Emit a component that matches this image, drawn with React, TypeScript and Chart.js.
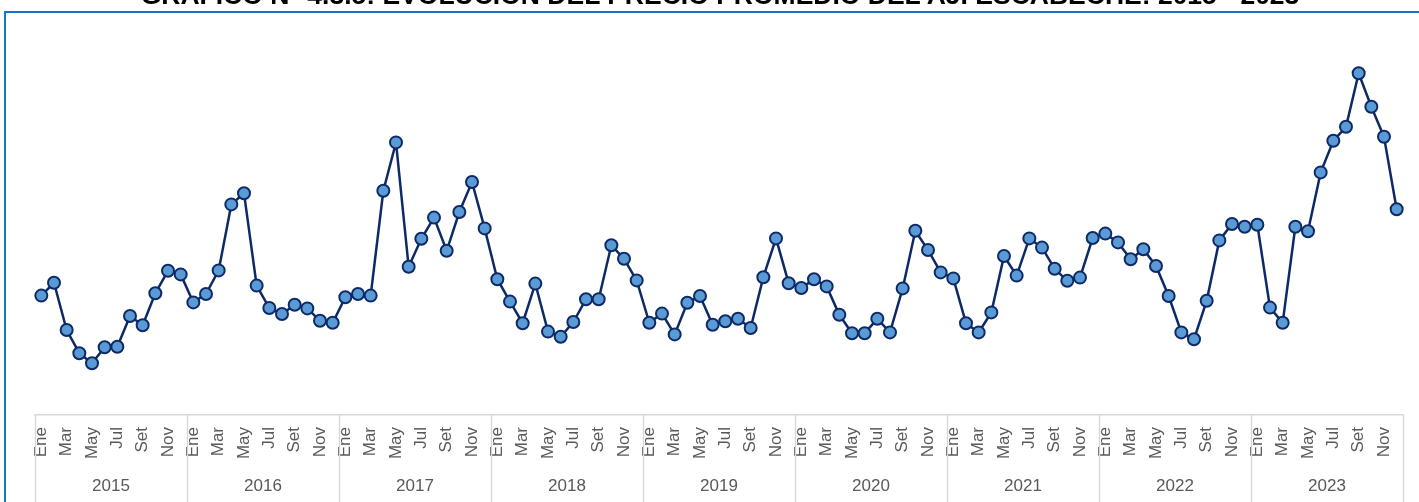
import React, { useEffect, useRef } from "react";
import { Chart, registerables } from "chart.js";

Chart.register(...registerables);

const TITLE = "GRÁFICO N° 4.3.5: EVOLUCIÓN DEL PRECIO PROMEDIO DEL AJÍ ESCABECHE: 2015 - 2023";

const years = ["2015", "2016", "2017", "2018", "2019", "2020", "2021", "2022", "2023"];
const monthNames = ["Ene", "Feb", "Mar", "Abr", "May", "Jun", "Jul", "Ago", "Set", "Oct", "Nov", "Dic"];
const shownMonths = ["Ene", "Mar", "May", "Jul", "Set", "Nov"];

const prices2015 = [3.11, 3.43, 2.25, 1.67, 1.42, 1.82, 1.83, 2.6, 2.37, 3.17, 3.73, 3.64];
const prices2016 = [2.94, 3.15, 3.74, 5.39, 5.67, 3.36, 2.8, 2.65, 2.88, 2.79, 2.48, 2.43];
const prices2017 = [3.07, 3.15, 3.11, 5.73, 6.94, 3.83, 4.53, 5.06, 4.23, 5.2, 5.95, 4.79];
const prices2018 = [3.52, 2.96, 2.42, 3.41, 2.21, 2.08, 2.45, 3.02, 3.02, 4.37, 4.03, 3.49];
const prices2019 = [2.43, 2.66, 2.14, 2.93, 3.1, 2.38, 2.47, 2.53, 2.3, 3.57, 4.54, 3.42];
const prices2020 = [3.3, 3.52, 3.34, 2.63, 2.17, 2.17, 2.53, 2.19, 3.29, 4.73, 4.25, 3.69];
const prices2021 = [3.54, 2.42, 2.19, 2.69, 4.1, 3.61, 4.54, 4.31, 3.78, 3.48, 3.56, 4.55];
const prices2022 = [4.66, 4.44, 4.02, 4.27, 3.85, 3.1, 2.19, 2.02, 2.98, 4.49, 4.9, 4.83];
const prices2023 = [4.88, 2.81, 2.43, 4.83, 4.72, 6.19, 6.98, 7.33, 8.67, 7.83, 7.08, 5.27];

const AXIS_COLOR = "#d9d9d9";
const TEXT_COLOR = "#595959";
const FONT_FAMILY = "Arial, 'Liberation Sans', sans-serif";

const yearAxisPlugin = {
  id: "yearAxis",
  afterDraw(chart: any) {
    const x = chart.scales.x;
    const ctx = chart.ctx;
    const top = chart.chartArea.bottom;
    const bottom = chart.height;
    ctx.save();
    ctx.strokeStyle = AXIS_COLOR;
    ctx.lineWidth = 1.5;
    for (let i = 0; i <= years.length; i++) {
      const px = Math.round(x.getPixelForValue(i * 12 - 0.5)) + 0.5;
      ctx.beginPath();
      ctx.moveTo(px, top);
      ctx.lineTo(px, bottom);
      ctx.stroke();
    }
    ctx.fillStyle = TEXT_COLOR;
    ctx.font = "17px " + FONT_FAMILY;
    ctx.textAlign = "center";
    ctx.textBaseline = "middle";
    years.forEach((yr, i) => {
      ctx.fillText(yr, x.getPixelForValue(i * 12 + 5.5), 486);
    });
    ctx.restore();
  },
};

export default function App() {
  const canvasRef = useRef<HTMLCanvasElement | null>(null);

  useEffect(() => {
    const labels: string[] = [];
    years.forEach((y) => monthNames.forEach((m) => labels.push(m + "-" + y)));
    const values = [
      ...prices2015,
      ...prices2016,
      ...prices2017,
      ...prices2018,
      ...prices2019,
      ...prices2020,
      ...prices2021,
      ...prices2022,
      ...prices2023,
    ];
    const chart = new Chart(canvasRef.current as HTMLCanvasElement, {
      type: "line",
      data: {
        labels,
        datasets: [
          {
            data: values,
            borderColor: "#0d2a66",
            borderWidth: 2.5,
            tension: 0,
            pointRadius: 6,
            pointBorderWidth: 2,
            pointBackgroundColor: "#5b9bd5",
            pointBorderColor: "#0d2a66",
            clip: false as any,
          },
        ],
      },
      options: {
        responsive: false,
        animation: false,
        layout: { padding: { left: 35, right: 16, top: 15, bottom: 0 } },
        plugins: {
          legend: { display: false },
          tooltip: { enabled: false },
          title: { display: false },
        },
        scales: {
          x: {
            type: "category",
            offset: true,
            afterFit: (scale: any) => {
              scale.height = 87;
              scale.paddingRight = 0;
              scale.paddingLeft = 0;
            },
            grid: { display: false, drawTicks: false },
            border: { display: true, color: AXIS_COLOR, width: 1.5 },
            ticks: {
              autoSkip: false,
              minRotation: 90,
              maxRotation: 90,
              padding: 12,
              color: TEXT_COLOR,
              font: { family: FONT_FAMILY, size: 17 },
              callback: (_v: any, i: number) => {
                const m = monthNames[i % 12];
                return shownMonths.includes(m) ? m : "";
              },
            },
          },
          y: {
            display: false,
            min: 0.125,
            max: 10.125,
          },
        },
      },
      plugins: [yearAxisPlugin],
    });
    return () => chart.destroy();
  }, []);

  return (
    <div
      style={{
        position: "fixed",
        left: 0,
        top: 0,
        width: 1419,
        height: 502,
        overflow: "hidden",
        background: "#ffffff",
      }}
    >
      <div
        style={{
          position: "absolute",
          left: 4,
          top: 11,
          width: 2000,
          height: 1000,
          borderLeft: "2px solid #1a74c4",
          borderTop: "2px solid #1a74c4",
        }}
      />
      <canvas
        ref={canvasRef}
        width={1419}
        height={502}
        style={{ position: "absolute", left: 0, top: 0, width: 1419, height: 502 }}
      />
      <div
        style={{
          position: "absolute",
          left: 0,
          width: 1440,
          top: -20,
          textAlign: "center",
          fontFamily: FONT_FAMILY,
          fontWeight: "bold",
          fontSize: 26.5,
          lineHeight: "30px",
          color: "#000000",
          whiteSpace: "nowrap",
        }}
      >
        {TITLE}
      </div>
    </div>
  );
}
